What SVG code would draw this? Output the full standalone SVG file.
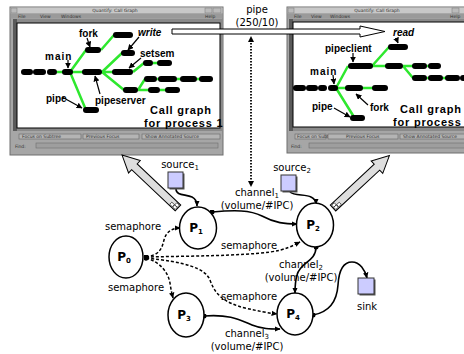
<svg xmlns="http://www.w3.org/2000/svg" width="464" height="354" viewBox="0 0 464 354">
<style>
.lbl{font-family:"DejaVu Sans",sans-serif;font-size:10px;fill:#000;text-anchor:middle}
.pn{font-family:"DejaVu Sans",sans-serif;font-size:12px;font-weight:bold;fill:#000;text-anchor:middle}
.cg{font-family:"Liberation Sans",Arial,sans-serif;font-size:10px;font-weight:bold;fill:#000}
.cgt{font-family:"Liberation Sans",Arial,sans-serif;font-size:11px;font-weight:bold;fill:#000;letter-spacing:0.8px}
.tiny{font-family:"DejaVu Sans",sans-serif;font-size:4.5px;fill:#333}
.frame{fill:#a6a6a6;stroke:#6e6e6e;stroke-width:1}
.tbar{fill:#c8c8c8}
.mbar{fill:#9a9a9a}
.canvas{fill:#fff;stroke:#000;stroke-width:1}
.btn{fill:#b4b4b4;stroke:#666;stroke-width:0.6}
.pill{fill:#000}
.gr{stroke:#2ee82e;stroke-width:2.5;fill:none}
.ptr{stroke:#000;stroke-width:1.2;fill:none;marker-end:url(#ptr)}
.node{fill:#fff;stroke:#000;stroke-width:1.5}
.sol{fill:none;stroke:#000;stroke-width:1.6;marker-end:url(#ah)}
.dsh{fill:none;stroke:#000;stroke-width:1.5;stroke-dasharray:3,2;marker-end:url(#ah);marker-start:url(#dot)}
.box{fill:#ccccff;stroke:#333;stroke-width:1}
.shadow{fill:#555}
.big{fill:#dedede;stroke:#000;stroke-width:1}
</style>
<defs>
<marker id="ah" viewBox="0 0 10 10" refX="9" refY="5" markerWidth="6" markerHeight="6" markerUnits="userSpaceOnUse" orient="auto"><path d="M0,0.5 L10,5 L0,9.5 z" fill="#000"/></marker>
<marker id="dot" viewBox="0 0 10 10" refX="5" refY="5" markerWidth="5" markerHeight="5" markerUnits="userSpaceOnUse"><circle cx="5" cy="5" r="5" fill="#000"/></marker>
<marker id="ptr" viewBox="0 0 10 10" refX="9" refY="5" markerWidth="6" markerHeight="6" markerUnits="userSpaceOnUse" orient="auto"><path d="M0,0 L10,5 L0,10 z" fill="#000"/></marker>
</defs>

<!-- Left window -->
<g id="window1">
<rect class="frame" x="10" y="7" width="213" height="148"/>
<rect class="tbar" x="10.5" y="7.5" width="212" height="6"/>
<rect x="11" y="8" width="6" height="5" fill="#bbb" stroke="#777" stroke-width="0.5"/>
<rect x="205" y="8" width="7" height="5" fill="#bbb" stroke="#777" stroke-width="0.5"/>
<rect x="213" y="8" width="8" height="5" fill="#bbb" stroke="#777" stroke-width="0.5"/>
<text class="tiny" x="115" y="12" text-anchor="middle">Quantify: Call Graph</text>
<rect class="mbar" x="10.5" y="13.5" width="212" height="5"/>
<text class="tiny" x="18" y="17.5" fill="#e8e8e8">File</text>
<text class="tiny" x="40" y="17.5" fill="#e8e8e8">View</text>
<text class="tiny" x="61" y="17.5" fill="#e8e8e8">Windows</text>
<text class="tiny" x="205" y="17.5" fill="#e8e8e8">Help</text>
<rect x="13" y="19" width="209" height="112" fill="#8a8a8a"/>
<rect x="13" y="19" width="4" height="112" fill="#5a5a5a"/>
<rect class="canvas" x="17" y="23" width="203" height="105"/>
<rect class="btn" x="19" y="134" width="62" height="5"/>
<text class="tiny" x="22" y="138">Focus on Subtree</text>
<rect class="btn" x="83" y="134" width="56" height="5"/>
<text class="tiny" x="86" y="138" fill="#888">Previous Focus</text>
<rect class="btn" x="142" y="134" width="78" height="5"/>
<text class="tiny" x="145" y="138">Show Annotated Source</text>
<text class="tiny" x="15" y="147.5">Find:</text>
<rect x="36" y="143" width="182" height="5" fill="#9e9e9e" stroke="#666" stroke-width="0.5"/>
<!-- call graph 1 -->
<path class="gr" d="M70,72 L86,50 M101,50 L114,35 M70,72 L86,110 M72,72 L84,72 M102,72 L122,53 M101,72 L113,72 M102,72 L124,90 M133,72 L144,63 M153,63 L158,63 M138,90 L145,79 M138,90 L149,90 M157,79 L159,79 M177,79 L181,79 M197,79 L200,79 M160,90 L166,90 M57,72 L63,72"/>
<rect class="pill" x="21" y="69" width="12" height="6" rx="3"/>
<rect class="pill" x="33" y="69" width="13" height="6" rx="3"/>
<rect class="pill" x="47" y="69" width="10" height="6" rx="3"/>
<rect class="pill" x="62" y="69" width="11" height="6" rx="3"/>
<rect class="pill" x="82" y="69" width="20" height="6" rx="3"/>
<rect class="pill" x="112" y="69" width="21" height="6" rx="3"/>
<rect class="pill" x="85" y="47" width="16" height="6" rx="3"/>
<rect class="pill" x="113" y="32" width="20" height="6" rx="3"/>
<rect class="pill" x="121" y="50" width="14" height="6" rx="3"/>
<rect class="pill" x="143" y="60" width="10" height="6" rx="3"/>
<rect class="pill" x="157" y="60" width="15" height="6" rx="3"/>
<rect class="pill" x="144" y="76" width="13" height="6" rx="3"/>
<rect class="pill" x="158" y="76" width="19" height="6" rx="3"/>
<rect class="pill" x="180" y="76" width="17" height="6" rx="3"/>
<rect class="pill" x="199" y="76" width="14" height="6" rx="3"/>
<rect class="pill" x="123" y="87" width="15" height="6" rx="3"/>
<rect class="pill" x="148" y="87" width="12" height="6" rx="3"/>
<rect class="pill" x="165" y="87" width="15" height="6" rx="3"/>
<rect class="pill" x="83" y="107" width="16" height="6" rx="3"/>
<path class="ptr" d="M87,38 L90,47"/>
<path class="ptr" d="M139,37 L128,50"/>
<path class="ptr" d="M68,60 L68,68"/>
<path class="ptr" d="M141,58 L129,68"/>
<path class="ptr" d="M62,97 L82,108"/>
<path class="ptr" d="M100,94 L95,76"/>
<text class="cg" x="79" y="37">fork</text>
<text class="cg" x="138" y="36" font-style="italic">write</text>
<text class="cg" x="45" y="60" letter-spacing="1">main</text>
<text class="cg" x="140" y="57">setsem</text>
<text class="cg" x="46" y="102">pipe</text>
<text class="cg" x="95" y="104">pipeserver</text>
<text class="cgt" x="150" y="114">Call graph</text>
<text class="cgt" x="144" y="126.5">for process 1</text>
</g>

<!-- Right window -->
<g id="window2">
<rect class="frame" x="287" y="7" width="180" height="146"/>
<rect class="tbar" x="287.5" y="7.5" width="180" height="6"/>
<rect x="288" y="8" width="6" height="5" fill="#bbb" stroke="#777" stroke-width="0.5"/>
<rect x="452" y="8" width="7" height="5" fill="#bbb" stroke="#777" stroke-width="0.5"/>
<text class="tiny" x="377" y="12" text-anchor="middle">Quantify: Call Graph</text>
<rect class="mbar" x="287.5" y="13.5" width="180" height="5"/>
<text class="tiny" x="294" y="17.5" fill="#e8e8e8">File</text>
<text class="tiny" x="311" y="17.5" fill="#e8e8e8">View</text>
<text class="tiny" x="330" y="17.5" fill="#e8e8e8">Windows</text>
<text class="tiny" x="450" y="17.5" fill="#e8e8e8">Help</text>
<rect x="289" y="19" width="178" height="112" fill="#8a8a8a"/>
<rect x="289" y="19" width="4" height="112" fill="#5a5a5a"/>
<rect class="canvas" x="293" y="22" width="175" height="105"/>
<rect class="btn" x="295" y="134" width="31" height="5"/>
<text class="tiny" x="297" y="138">Focus on Subtree</text>
<rect class="btn" x="328" y="134" width="70" height="5"/>
<text class="tiny" x="346" y="138" fill="#888">Previous Focus</text>
<rect class="btn" x="400" y="134" width="66" height="5"/>
<text class="tiny" x="403" y="138">Show Annotated Source</text>
<text class="tiny" x="291" y="147.5">Find:</text>
<rect x="309" y="143" width="158" height="5" fill="#9e9e9e" stroke="#666" stroke-width="0.5"/>
<!-- call graph 2 -->
<path class="gr" d="M336,88 L348,66 M372,66 L389,47 M372,66 L386,66 M403,66 L413,66 M427,66 L429,66 M403,66 L413,78 M427,78 L429,78 M443,78 L446,78 M336,88 L354,117 M337,88 L346,88 M362,88 L373,88"/>
<rect class="pill" x="293" y="85" width="13" height="6" rx="3"/>
<rect class="pill" x="306" y="85" width="12" height="6" rx="3"/>
<rect class="pill" x="318" y="85" width="9" height="6" rx="3"/>
<rect class="pill" x="328" y="85" width="10" height="6" rx="3"/>
<rect class="pill" x="345" y="85" width="18" height="6" rx="3"/>
<rect class="pill" x="372" y="85" width="16" height="6" rx="3"/>
<rect class="pill" x="348" y="63" width="25" height="6" rx="3"/>
<rect class="pill" x="388" y="44" width="20" height="6" rx="3"/>
<rect class="pill" x="385" y="63" width="18" height="6" rx="3"/>
<rect class="pill" x="412" y="63" width="15" height="6" rx="3"/>
<rect class="pill" x="428" y="63" width="13" height="6" rx="3"/>
<rect class="pill" x="412" y="75" width="15" height="6" rx="3"/>
<rect class="pill" x="428" y="75" width="15" height="6" rx="3"/>
<rect class="pill" x="445" y="75" width="15" height="6" rx="3"/>
<rect class="pill" x="460" y="75" width="10" height="6" rx="3"/>
<rect class="pill" x="350" y="115" width="15" height="6" rx="3"/>
<path class="ptr" d="M396,38 L398,43"/>
<path class="ptr" d="M353,53 L353,62"/>
<path class="ptr" d="M333,75 L334,84"/>
<path class="ptr" d="M334,108 L350,117"/>
<path class="ptr" d="M368,105 L356,94"/>
<text class="cg" x="393" y="36" font-style="italic">read</text>
<text class="cg" x="325" y="52">pipeclient</text>
<text class="cg" x="310" y="75" letter-spacing="1">main</text>
<text class="cg" x="312" y="110">pipe</text>
<text class="cg" x="370" y="111">fork</text>
<text class="cgt" x="400" y="113">Call graph</text>
<text class="cgt" x="393" y="125.5">for process</text>
</g>

<!-- Connectors -->
<g id="connectors">
<!-- pipe hollow arrow -->
<path d="M172,29 L360,29 L360,26 L385,31.5 L360,37 L360,34 L172,34 Z" fill="#fff" stroke="#000" stroke-width="1"/>
<!-- dotted vertical -->
<path d="M251,40 L251,184" fill="none" stroke="#000" stroke-width="1.8" stroke-dasharray="1.6,1.4"/>
<path d="M251,36 L248,42 L254,42 Z" fill="#000"/>
<path d="M251,187 L248,181 L254,181 Z" fill="#000"/>
<!-- big pencil arrows -->
<g transform="translate(178,208) rotate(-136.6)">
<path class="big" d="M0,-4 L60,-4 L60,-8.5 L77,0 L60,8.5 L60,4 L0,4 Z"/>
<rect x="1" y="-3" width="3.5" height="3" fill="#fff" stroke="#000" stroke-width="0.6"/>
<rect x="1" y="0" width="3.5" height="3" fill="#fff" stroke="#000" stroke-width="0.6"/>
<rect x="5" y="-3" width="3.5" height="3" fill="#fff" stroke="#000" stroke-width="0.6"/>
</g>
<g transform="translate(333,208) rotate(-42.9)">
<path class="big" d="M0,-4 L60,-4 L60,-8.5 L77,0 L60,8.5 L60,4 L0,4 Z"/>
<rect x="1" y="-3" width="3.5" height="3" fill="#fff" stroke="#000" stroke-width="0.6"/>
<rect x="1" y="0" width="3.5" height="3" fill="#fff" stroke="#000" stroke-width="0.6"/>
<rect x="5" y="0" width="3.5" height="3" fill="#fff" stroke="#000" stroke-width="0.6"/>
</g>
<!-- solid edges -->
<path class="sol" d="M176,189 C176,196 186,194 192,197 C196,199 197,202 197,206"/>
<path class="sol" d="M290,192 C294,196 306,194 311,197 C315,199 316,201 316,204"/>
<path class="sol" marker-start="url(#dot)" d="M212,212 C235,210 250,210 262,216 C275,223 285,224 297,224"/>
<path class="sol" marker-start="url(#dot)" d="M316,247 C316,262 300,262 297,275 C295,282 295,287 295,293"/>
<path class="sol" marker-start="url(#dot)" d="M204,316 C230,314 240,320 252,325 C262,329 270,329 280,329"/>
<path class="sol" marker-start="url(#dot)" d="M313,315 C330,312 337,300 338,285 C339,268 345,262 352,262 C360,262 365,270 367,278"/>
<!-- dashed edges -->
<path class="dsh" d="M146,257 C160,255 162,248 164,240 C166,232 172,228 180,228"/>
<path class="dsh" d="M146,258 C160,262 168,272 170,283 C171,290 172,294 173,298"/>
<path class="dsh" d="M146,257 C190,256 240,256 270,252 C285,250 292,246 300,242"/>
<path class="dsh" d="M146,258 C185,262 205,268 210,280 C215,295 225,303 245,308 C258,311 268,313 277,314"/>
<!-- labels -->
<text class="lbl" x="257" y="13">pipe</text>
<text class="lbl" x="257" y="26">(250/10)</text>
<text class="lbl" x="257" y="196">channel<tspan font-size="7" dy="2">1</tspan></text>
<text class="lbl" x="257" y="209">(volume/#IPC)</text>
<text class="lbl" x="133" y="230">semaphore</text>
<text class="lbl" x="136" y="291">semaphore</text>
<text class="lbl" x="249" y="249">semaphore</text>
<text class="lbl" x="249" y="300">semaphore</text>
<text class="lbl" x="301" y="268">channel<tspan font-size="7" dy="2">2</tspan></text>
<text class="lbl" x="301" y="281">(volume/#IPC)</text>
<text class="lbl" x="247" y="337">channel<tspan font-size="7" dy="2">3</tspan></text>
<text class="lbl" x="247" y="350">(volume/#IPC)</text>
</g>

<!-- Nodes -->
<g id="P0"><ellipse class="node" cx="126" cy="257" rx="17" ry="21"/><text class="pn" x="124" y="261">P<tspan font-size="7" dy="2">0</tspan></text></g>
<g id="P1"><ellipse class="node" cx="198" cy="228" rx="18.5" ry="21"/><text class="pn" x="196" y="232">P<tspan font-size="7" dy="2">1</tspan></text></g>
<g id="P2"><ellipse class="node" cx="315" cy="225" rx="18.5" ry="22"/><text class="pn" x="313" y="229">P<tspan font-size="7" dy="2">2</tspan></text></g>
<g id="P3"><ellipse class="node" cx="186" cy="315" rx="18" ry="22"/><text class="pn" x="184" y="319">P<tspan font-size="7" dy="2">3</tspan></text></g>
<g id="P4"><ellipse class="node" cx="295" cy="314" rx="18" ry="21"/><text class="pn" x="293" y="318">P<tspan font-size="7" dy="2">4</tspan></text></g>
<g id="source1"><rect class="shadow" x="169.5" y="173.5" width="15" height="16"/><rect class="box" x="168" y="172" width="15" height="16"/><text class="lbl" x="180" y="168">source<tspan font-size="7" dy="2">1</tspan></text></g>
<g id="source2"><rect class="shadow" x="282.5" y="176.5" width="15" height="16"/><rect class="box" x="281" y="175" width="15" height="16"/><text class="lbl" x="292" y="171">source<tspan font-size="7" dy="2">2</tspan></text></g>
<g id="sink"><rect class="shadow" x="359.5" y="279.5" width="16" height="16"/><rect class="box" x="358" y="278" width="16" height="16"/><text class="lbl" x="367" y="310">sink</text></g>
</svg>
